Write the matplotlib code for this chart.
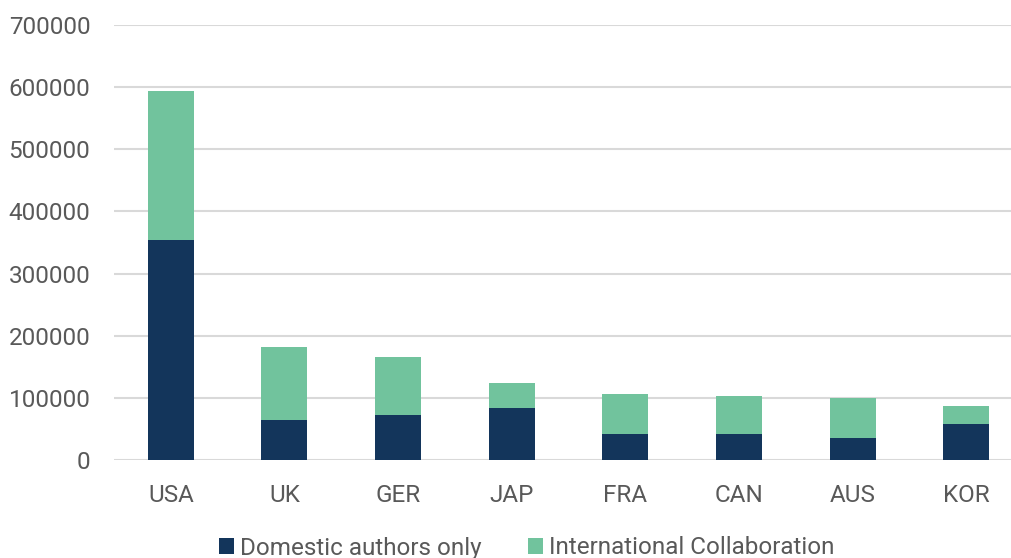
import matplotlib.pyplot as plt
import numpy as np

# Data
countries = ["USA", "UK", "GER", "JAP", "FRA", "CAN", "AUS", "KOR"]
domestic = [354000, 64500, 72500, 83000, 41500, 42500, 36000, 58500]
international = [240000, 117500, 92500, 41000, 65000, 61000, 63000, 28500]
y_ticks = [0, 100000, 200000, 300000, 400000, 500000, 600000, 700000]

plt.rcParams["font.family"] = ["Roboto", "DejaVu Sans"]
text_color = "#595959"
grid_color = "#D9D9D9"

fig = plt.figure(figsize=(10.11, 5.58), dpi=100)
ax = fig.add_axes([114 / 1011, (558 - 460) / 558, 1 - 114 / 1011, (460 - 25) / 558])

x = np.arange(len(countries))
bar_w = 0.405
ax.bar(x, domestic, width=bar_w, color="#13355B", label="Domestic authors only", zorder=3)
ax.bar(x, international, width=bar_w, bottom=domestic, color="#71C39D",
       label="International Collaboration", zorder=3)

ax.set_ylim(0, 700000)
ax.set_xlim(-0.5, 7.5 - 12 / 113.6)
ax.set_yticks(y_ticks)
ax.set_yticklabels([str(v) for v in y_ticks])
ax.set_xticks(x)
ax.set_xticklabels(countries)
ax.yaxis.grid(True, color=grid_color, linewidth=1.5, zorder=0)
ax.set_axisbelow(True)
for s in ax.spines.values():
    s.set_visible(False)
ax.tick_params(axis="both", length=0, labelsize=17.5, colors=text_color)
ax.tick_params(axis="y", pad=17)
ax.tick_params(axis="x", pad=17)

fig.legend(loc="center", bbox_to_anchor=(527 / 1011, 1 - 548 / 558), ncol=2,
           frameon=False, fontsize=17.5, handlelength=0.62, handleheight=0.62,
           handletextpad=0.25, columnspacing=1.9, labelcolor=text_color)

fig.savefig("out.png", dpi=100)
